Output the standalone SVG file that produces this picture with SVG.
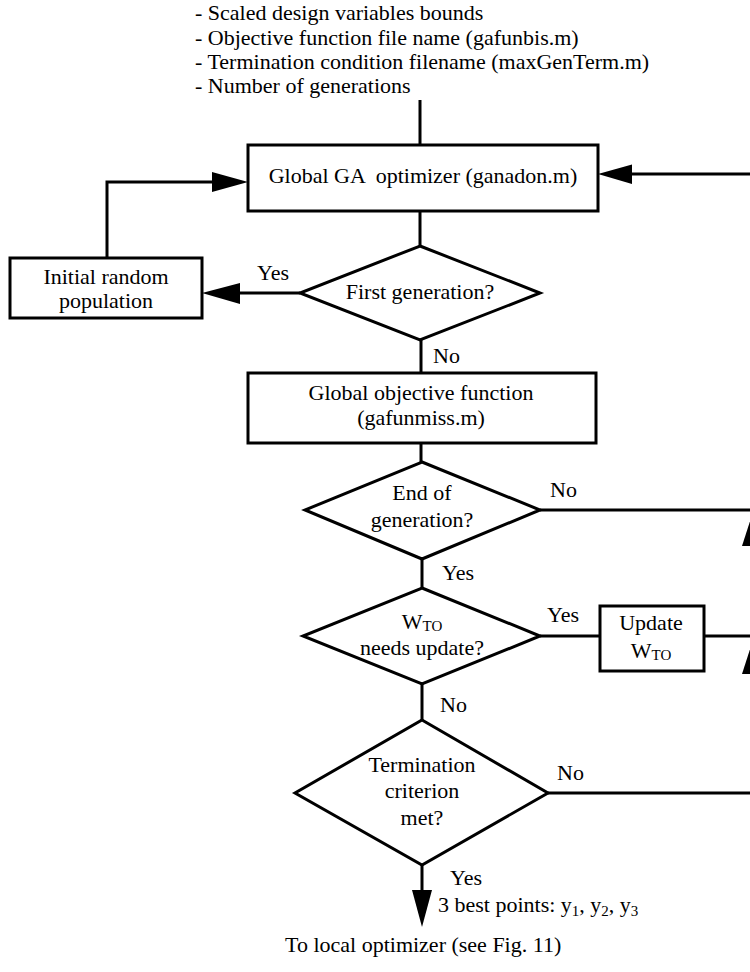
<svg xmlns="http://www.w3.org/2000/svg" width="750" height="972" viewBox="0 0 750 972">
  <defs>
    <style>
      text { font-family: "Liberation Serif", "Times New Roman", serif; font-size: 22px; fill: #000; }
      .c { text-anchor: middle; }
      .sub { font-size: 15px; }
      .shape { fill: #fff; stroke: #000; stroke-width: 3; }
      .wire { fill: none; stroke: #000; stroke-width: 3; }
      .head { fill: #000; stroke: none; }
    </style>
  </defs>

  <!-- inputs to the GA optimizer -->
  <g id="inputs">
    <text x="195" y="20">- Scaled design variables bounds</text>
    <text x="195" y="45">- Objective function file name (gafunbis.m)</text>
    <text x="195" y="69">- Termination condition filename (maxGenTerm.m)</text>
    <text x="195" y="93">- Number of generations</text>
  </g>

  <!-- connectors; the return line on the right runs along x=755 -->
  <g id="connectors">
    <path class="wire" d="M420 100 V145"/>
    <path class="wire" d="M420 211 V246"/>
    <path class="wire" d="M300 293 H238"/>
    <path class="wire" d="M107 258 V182 H214"/>
    <path class="wire" d="M421 340 V373"/>
    <path class="wire" d="M421 443 V462"/>
    <path class="wire" d="M422 559 V588"/>
    <path class="wire" d="M422 684 V720"/>
    <path class="wire" d="M422 865 V892"/>
    <path class="wire" d="M540 510 H755"/>
    <path class="wire" d="M540 636 H600"/>
    <path class="wire" d="M704 636 H755"/>
    <path class="wire" d="M548 793 H755 V174 H630"/>
    <polygon class="head" points="248,182 212,172 212,192"/>
    <polygon class="head" points="598,174 632,164.5 632,184"/>
    <polygon class="head" points="202,293 240,283 240,304"/>
    <polygon class="head" points="753,512 742,546 764,546"/>
    <polygon class="head" points="753,640 742,674 764,674"/>
    <polygon class="head" points="422,927 412,890 432,890"/>
    <text x="257" y="280">Yes</text>
    <text x="433" y="363">No</text>
    <text x="550" y="497">No</text>
    <text x="442" y="580">Yes</text>
    <text x="547" y="622">Yes</text>
    <text x="440" y="712">No</text>
    <text x="557" y="780">No</text>
    <text x="450" y="885">Yes</text>
    <text x="438" y="912">3 best points: y<tspan class="sub" dy="4">1</tspan><tspan dy="-4">, y</tspan><tspan class="sub" dy="4">2</tspan><tspan dy="-4">, y</tspan><tspan class="sub" dy="4">3</tspan></text>
    <text x="285" y="952">To local optimizer (see Fig. 11)</text>
  </g>

  <g id="ga-optimizer">
    <rect class="shape" x="248" y="145" width="350" height="66"/>
    <text class="c" x="423" y="183" xml:space="preserve">Global GA  optimizer (ganadon.m)</text>
  </g>

  <g id="first-generation">
    <polygon class="shape" points="420,246 540,293 420,340 300,293"/>
    <text class="c" x="420" y="299">First generation?</text>
  </g>

  <g id="initial-population">
    <rect class="shape" x="10" y="258" width="192" height="60"/>
    <text class="c" x="106" y="284">Initial random</text>
    <text class="c" x="106" y="308">population</text>
  </g>

  <g id="objective-function">
    <rect class="shape" x="248" y="373" width="348" height="70"/>
    <text class="c" x="421" y="400">Global objective function</text>
    <text class="c" x="421" y="425">(gafunmiss.m)</text>
  </g>

  <g id="end-of-generation">
    <polygon class="shape" points="422,462 540,510 422,559 305,510"/>
    <text class="c" x="422" y="500">End of</text>
    <text class="c" x="422" y="527">generation?</text>
  </g>

  <g id="wto-check">
    <polygon class="shape" points="422,588 540,636 422,684 303,636"/>
    <text class="c" x="422" y="629">W<tspan class="sub" dy="2">TO</tspan></text>
    <text class="c" x="422" y="655">needs update?</text>
  </g>

  <g id="update-wto">
    <rect class="shape" x="600" y="606" width="104" height="65"/>
    <text class="c" x="651" y="630">Update</text>
    <text class="c" x="651" y="658">W<tspan class="sub" dy="2">TO</tspan></text>
  </g>

  <g id="termination">
    <polygon class="shape" points="422,720 548,793 422,865 295,793"/>
    <text class="c" x="422" y="772">Termination</text>
    <text class="c" x="422" y="798">criterion</text>
    <text class="c" x="422" y="825">met?</text>
  </g>
</svg>
